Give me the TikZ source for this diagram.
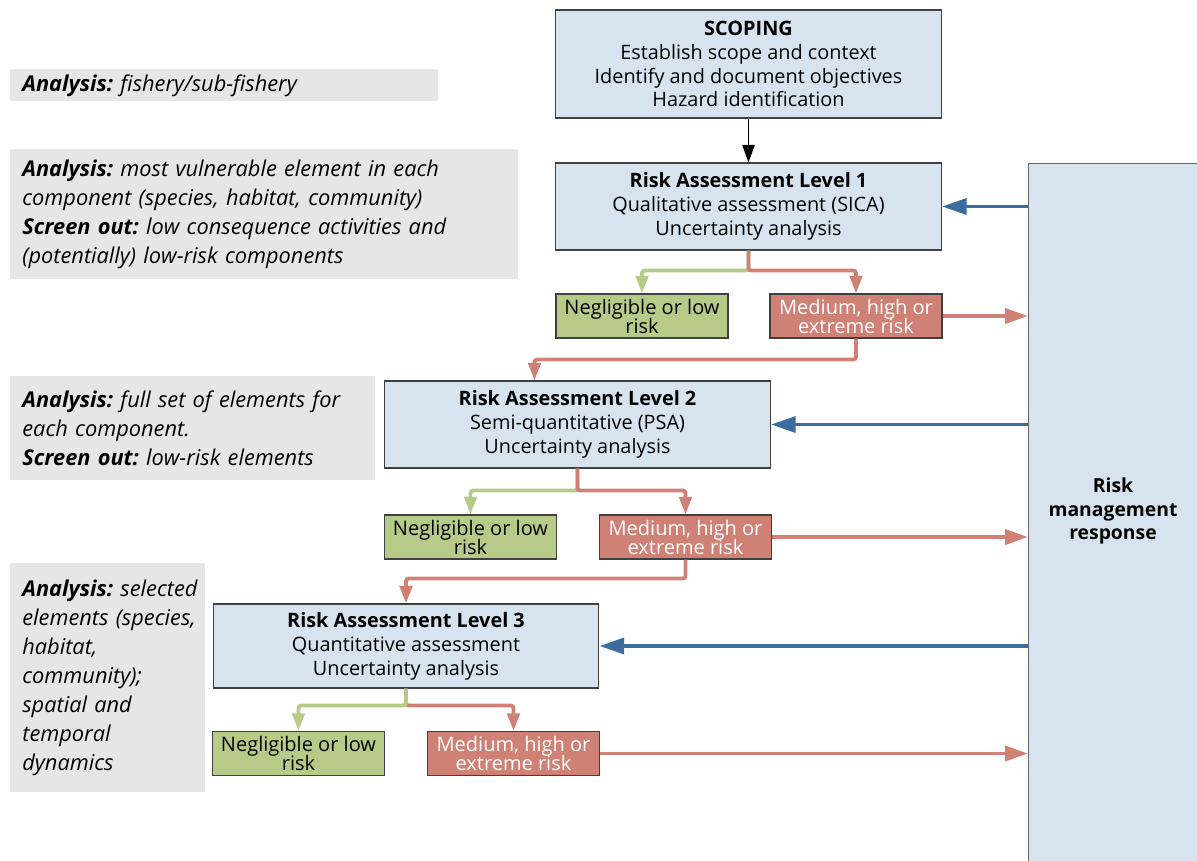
\documentclass[tikz,border=0pt]{standalone}
\usepackage{fontspec}
\setmainfont{Open Sans}
\frenchspacing
\usetikzlibrary{arrows.meta,calc,positioning}

\definecolor{boxblue}{HTML}{D7E3EE}
\definecolor{lowgreen}{HTML}{B5CB87}
\definecolor{highred}{HTML}{CF8175}
\definecolor{backblue}{HTML}{3D6D9F}
\definecolor{notegray}{HTML}{E6E6E7}
\newcommand\tightlines{\setlength{\lineskiplimit}{-6pt}}

\begin{document}
\begin{tikzpicture}[x=0.02cm,y=-0.02cm,
    level/.style={
        draw=black!75,
        line width=0.6pt,
        fill=boxblue,
        align=center,
        minimum width=7.72cm,
        minimum height=1.74cm,
        inner sep=0pt,
        font=\fontsize{11.3}{13.6}\selectfont
      },
    low/.style={
        draw=black!75,
        line width=0.6pt,
        fill=lowgreen,
        align=center,
        minimum width=3.44cm,
        minimum height=0.88cm,
        inner sep=0pt,
        font=\fontsize{11.4}{10.8}\selectfont\tightlines
      },
    high/.style={low, fill=highred, text=white},
    note/.style={
        fill=notegray,
        anchor=north west,
        align=left,
        inner xsep=0.24cm,
        inner ysep=0pt,
        font=\fontsize{12.4}{16.6}\selectfont\itshape
      },
    lowline/.style={draw=lowgreen, line width=2.2pt, rounded corners=1.5pt,
        -{Triangle[length=10pt,width=7pt]}},
    highline/.style={draw=highred, line width=2.2pt, rounded corners=1.5pt,
        -{Triangle[length=10pt,width=7pt]}},
    toresp/.style={draw=highred, line width=2.2pt,
        -{Triangle[length=13pt,width=8.5pt]}},
    back/.style={draw=backblue, line width=2.2pt,
        -{Triangle[length=14pt,width=9pt]}}
  ]
  \useasboundingbox (0,0) rectangle (1197,860);
  \clip (0,0) rectangle (1197,860);

  % notes on the left
  \node[note, text width=8.08cm, minimum height=0.64cm] (note0) at (10,69)
    {\textbf{Analysis:} fishery/sub-fishery};
  \node[note, text width=9.68cm, minimum height=2.6cm] (note1) at (10,149)
    {\textbf{Analysis:} most vulnerable element in each\\
     component (species, habitat, community)\\
     \textbf{Screen out:} low consequence activities and\\
     (potentially) low-risk components};
  \node[note, text width=6.82cm, minimum height=2.08cm] (note2) at (10,376)
    {\textbf{Analysis:} full set of elements for\\
     each component.\\
     \textbf{Screen out:} low-risk elements};
  \node[note, text width=3.42cm, minimum height=4.58cm] (note3) at (10,563)
    {\mbox{\textbf{Analysis:} selected}\\ \mbox{elements (species,}\\ habitat,\\
     community);\\ \mbox{spatial and}\\ temporal\\ dynamics};

  % response box
  \node[draw=black!60, line width=0.8pt, fill=boxblue, anchor=north west,
        minimum width=3.5cm, minimum height=15cm] (resp) at (1028,163) {};
  \node[align=center, font=\fontsize{11}{13.6}\selectfont\bfseries]
        (resptext) at (1113,511) {Risk\\ management\\ response};

  % level boxes
  \node[level, minimum height=2.16cm] (scope) at (748.5,64)
    {\textbf{SCOPING}\\ Establish scope and context\\
     Identify and document objectives\\ Hazard identification};
  \node[level] (L1) at (748.5,206.5)
    {\textbf{Risk Assessment Level 1}\\ Qualitative assessment (SICA)\\
     Uncertainty analysis};
  \node[level] (L2) at (577.5,424.5)
    {\textbf{Risk Assessment Level 2}\\ Semi-quantitative (PSA)\\
     Uncertainty analysis};
  \node[level, minimum height=1.68cm] (L3) at (406,646)
    {\textbf{Risk Assessment Level 3}\\ Quantitative assessment\\
     Uncertainty analysis};

  % outcome boxes
  \node[low] (N1) at (642,316) {Negligible or low\\ risk};
  \node[high] (M1) at (856,316) {Medium, high or\\ extreme risk};
  \node[low] (N2) at (470.5,537) {Negligible or low\\ risk};
  \node[high] (M2) at (685.5,537) {Medium, high or\\ extreme risk};
  \node[low] (N3) at (298.5,753.5) {Negligible or low\\ risk};
  \node[high] (M3) at (513.5,753.5) {Medium, high or\\ extreme risk};

  % connectors
  \draw[line width=0.9pt, -{Triangle[length=10pt,width=7pt]}] (scope) -- (L1);

  \draw[lowline] (L1.south) -- ++(0,20) -| (N1.north);
  \draw[highline] (L1.south) -- ++(0,20) -| (M1.north);
  \draw[highline] (M1.south) -- ++(0,21) -| ($(L2.north)+(-43,0)$);

  \draw[lowline] (L2.south) -- ++(0,22) -| (N2.north);
  \draw[highline] (L2.south) -- ++(0,22) -| (M2.north);
  \draw[highline] (M2.south) -- ++(0,19) -| (L3.north);

  \draw[highline] (L3.south) -- ++(0,17) -| (M3.north);
  \draw[lowline] (L3.south) -- ++(0,17) -| (N3.north);

  \draw[toresp] (M1.east) -- (M1.east -| resp.west);
  \draw[toresp] (M2.east) -- (M2.east -| resp.west);
  \draw[toresp] (M3.east) -- (M3.east -| resp.west);

  \draw[back] (L1.east -| resp.west) -- (L1.east);
  \draw[back] (L2.east -| resp.west) -- (L2.east);
  \draw[back] (L3.east -| resp.west) -- (L3.east);
\end{tikzpicture}
\end{document}
